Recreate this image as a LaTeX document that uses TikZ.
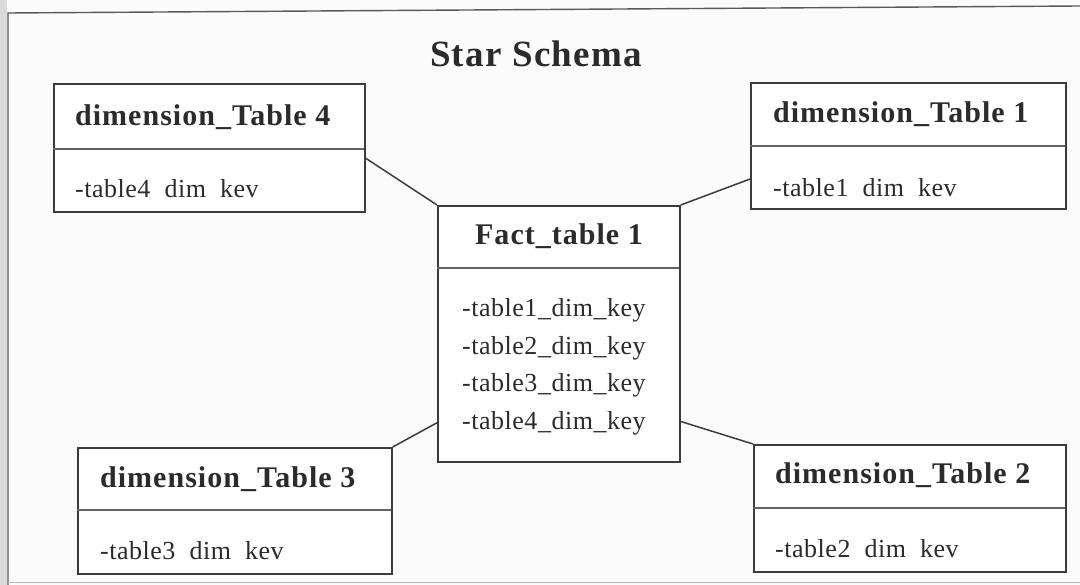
\documentclass[tikz,border=0pt]{standalone}
\usepackage{fontspec}
\setmainfont{Liberation Serif}
\newfontfamily\headfont[LetterSpace=3.4]{Liberation Serif}
\newfontfamily\bodyfont[LetterSpace=2.0]{Liberation Serif}
\usetikzlibrary{calc}

\definecolor{ink}{HTML}{2B2B2B}
\definecolor{rule}{HTML}{3C3C3C}
\definecolor{paper}{HTML}{FBFBFB}
\definecolor{margin}{HTML}{DADADA}

\tikzset{
  tablebox/.style={draw=rule, line width=1.7pt, fill=white, rectangle,
    inner sep=0pt, anchor=north west},
  divider/.style={draw=rule!80, line width=1.3pt},
  tabtitle/.style={anchor=base west, inner sep=0pt, text=ink,
    font=\headfont\bfseries\fontsize{30}{34}\selectfont},
  tabfield/.style={anchor=base west, inner sep=0pt, text=ink,
    font=\bodyfont\fontsize{26}{30}\selectfont},
  link/.style={draw=rule, line width=1.5pt},
}

\begin{document}
\begin{tikzpicture}[x=1pt, y=-1pt]
  % page, scanned margin and outer frame
  \useasboundingbox (0,0) rectangle (1080,585);
  \fill[paper] (0,0) rectangle (1080,585);
  \fill[margin] (0,0) rectangle (7,585);
  \draw[rule!85, line width=1.4pt] (8,585) -- (8,13) -- (1080,6);
  \draw[rule!35, line width=1pt] (8,582) -- (1080,582);

  \node[anchor=base, inner sep=0pt, text=ink,
        font=\headfont\bfseries\fontsize{37}{40}\selectfont] (title) at (536,67) {Star Schema};

  % dimension table 4
  \node[tablebox, minimum width=311pt, minimum height=128pt] (t4) at (53,83) {};
  \draw[divider] (53,149) -- (364,149);
  \node[tabtitle] (t4h) at (75,126) {dimension\_Table 4};
  \node[tabfield] (t4f) at (75,198) {-table4\ \ dim\ \ kev};

  % dimension table 1
  \node[tablebox, minimum width=315pt, minimum height=126pt] (t1) at (750,82) {};
  \draw[divider] (750,146) -- (1065,146);
  \node[tabtitle] (t1h) at (773,123) {dimension\_Table 1};
  \node[tabfield] (t1f) at (773,197) {-table1\ \ dim\ \ kev};

  % dimension table 3
  \node[tablebox, minimum width=314pt, minimum height=126pt] (t3) at (77,447) {};
  \draw[divider] (77,510) -- (391,510);
  \node[tabtitle] (t3h) at (100,488) {dimension\_Table 3};
  \node[tabfield] (t3f) at (100,559) {-table3\ \ dim\ \ kev};

  % dimension table 2
  \node[tablebox, minimum width=312pt, minimum height=127pt] (t2) at (753,444) {};
  \draw[divider] (753,508) -- (1065,508);
  \node[tabtitle] (t2h) at (775,483) {dimension\_Table 2};
  \node[tabfield] (t2f) at (775,557) {-table2\ \ dim\ \ kev};

  % fact table
  \node[tablebox, minimum width=242pt, minimum height=256pt] (fact) at (437,205) {};
  \draw[divider] (437,268) -- (679,268);
  \node[tabtitle, anchor=base] (facth) at (559,245) {Fact\_table 1};
  \node[tabfield] (f1) at (462,317) {-table1\_dim\_key};
  \node[tabfield] (f2) at (462,355) {-table2\_dim\_key};
  \node[tabfield] (f3) at (462,392) {-table3\_dim\_key};
  \node[tabfield] (f4) at (462,430) {-table4\_dim\_key};

  % connectors from the dimension tables to the fact table
  \draw[link] ($(t4.north east)!0.58!(t4.south east)$) -- (fact.north west);
  \draw[link] ($(t1.north west)!0.76!(t1.south west)$) -- (fact.north east);
  \draw[link] (t3.north east) -- ($(fact.north west)!0.845!(fact.south west)$);
  \draw[link] (t2.north west) -- ($(fact.north east)!0.84!(fact.south east)$);
\end{tikzpicture}
\end{document}
